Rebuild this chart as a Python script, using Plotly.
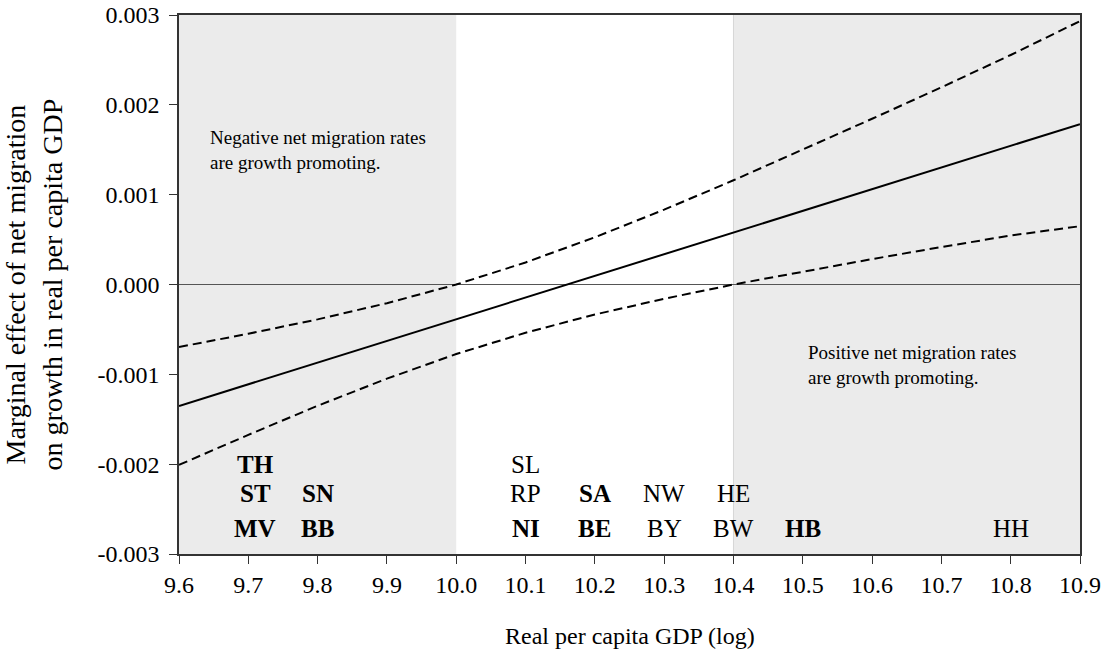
import plotly.graph_objects as go

# Log real per capita GDP grid
gdp_log = [9.6, 9.7, 9.8, 9.9, 10.0, 10.1, 10.2, 10.3, 10.4, 10.5, 10.6, 10.7, 10.8, 10.9]

# Marginal effect of net migration and its confidence bounds
effect = [-0.001352, -0.001111, -0.000869, -0.000628, -0.000387, -0.000146, 0.000096,
          0.000337, 0.000578, 0.000820, 0.001061, 0.001302, 0.001544, 0.001785]
upper = [-0.000696, -0.000548, -0.000388, -0.000208, 0.000000, 0.000245, 0.000526,
         0.000833, 0.001160, 0.001500, 0.001845, 0.002195, 0.002555, 0.002932]
lower = [-0.002008, -0.001674, -0.001350, -0.001048, -0.000774, -0.000537, -0.000334,
         -0.000159, 0.000000, 0.000144, 0.000283, 0.000417, 0.000545, 0.000649]

# Shaded ranges where the effect is significant
shaded_ranges = [(9.6, 10.0), (10.4, 10.9)]

# State codes placed at their GDP level
state_codes = ["TH", "ST", "MV", "SN", "BB", "SL", "RP", "NI", "SA", "BE",
               "NW", "BY", "HE", "BW", "HB", "HH"]
state_x = [9.71, 9.71, 9.71, 9.80, 9.80, 10.10, 10.10, 10.10, 10.20, 10.20,
           10.30, 10.30, 10.40, 10.40, 10.50, 10.80]
state_y = [-0.00200, -0.00233, -0.00272, -0.00233, -0.00272, -0.00200, -0.00233, -0.00272,
           -0.00233, -0.00272, -0.00233, -0.00272, -0.00233, -0.00272, -0.00272, -0.00272]
state_bold = [True, True, True, True, True, False, False, True, True, True,
              False, False, False, False, True, False]

# Axis ticks
x_ticks = [9.6, 9.7, 9.8, 9.9, 10.0, 10.1, 10.2, 10.3, 10.4, 10.5, 10.6, 10.7, 10.8, 10.9]
x_tick_text = ["9.6", "9.7", "9.8", "9.9", "10.0", "10.1", "10.2", "10.3", "10.4",
               "10.5", "10.6", "10.7", "10.8", "10.9"]
y_ticks = [0.003, 0.002, 0.001, 0.0, -0.001, -0.002, -0.003]
y_tick_text = ["0.003", "0.002", "0.001", "0.000", "-0.001", "-0.002", "-0.003"]

FONT = "Liberation Serif"

fig = go.Figure()

fig.add_trace(go.Scatter(x=gdp_log, y=upper, mode="lines",
                         line=dict(color="black", width=2, dash="9px,5px"),
                         hoverinfo="skip", showlegend=False))
fig.add_trace(go.Scatter(x=gdp_log, y=effect, mode="lines",
                         line=dict(color="black", width=2),
                         hoverinfo="skip", showlegend=False))
fig.add_trace(go.Scatter(x=gdp_log, y=lower, mode="lines",
                         line=dict(color="black", width=2, dash="9px,5px"),
                         hoverinfo="skip", showlegend=False))

shapes = []
for x0, x1 in shaded_ranges:
    shapes.append(dict(type="rect", xref="x", yref="paper", x0=x0, x1=x1, y0=0, y1=1,
                       fillcolor="#EBEBEB", line=dict(width=0), layer="below"))
shapes.append(dict(type="line", xref="x", yref="paper", x0=10.4, x1=10.4, y0=0, y1=1,
                   line=dict(color="#D6D6D6", width=1), layer="below"))

annotations = []
for code, sx, sy, bold in zip(state_codes, state_x, state_y, state_bold):
    annotations.append(dict(x=sx, y=sy, xref="x", yref="y", showarrow=False,
                            text=f"<b>{code}</b>" if bold else code,
                            font=dict(family=FONT, size=25, color="black"),
                            xanchor="center", yanchor="middle"))

annotations.append(dict(x=9.642, y=0.00150, xref="x", yref="y", showarrow=False,
                        text="Negative net migration rates<br>are growth promoting.",
                        align="left", xanchor="left", yanchor="middle",
                        font=dict(family=FONT, size=19, color="black")))
annotations.append(dict(x=10.504, y=-0.00090, xref="x", yref="y", showarrow=False,
                        text="Positive net migration rates<br>are growth promoting.",
                        align="left", xanchor="left", yanchor="middle",
                        font=dict(family=FONT, size=19, color="black")))

annotations.append(dict(x=-0.1610, y=0.5, xref="paper", yref="paper", showarrow=False,
                        text="Marginal effect of net migration<br>on growth in real per capita GDP",
                        textangle=-90, xanchor="center", yanchor="middle",
                        font=dict(family=FONT, size=28, color="black")))
annotations.append(dict(x=0.5, y=-0.153, xref="paper", yref="paper", showarrow=False,
                        text="Real per capita GDP (log)",
                        xanchor="center", yanchor="middle",
                        font=dict(family=FONT, size=24, color="black")))

fig.update_layout(
    width=1102, height=660,
    margin=dict(l=179, r=22, t=15, b=106, autoexpand=False),
    paper_bgcolor="white", plot_bgcolor="white",
    shapes=shapes, annotations=annotations,
    font=dict(family=FONT, size=21, color="black"),
)

fig.update_xaxes(range=[9.6, 10.9], tickvals=x_ticks, ticktext=x_tick_text,
                 showgrid=False, zeroline=False, showline=True, linecolor="#333333",
                 linewidth=1.5, mirror=True, ticks="outside", ticklen=8, tickcolor="#333333",
                 automargin=False,
                 tickfont=dict(family=FONT, size=24, color="black"))
fig.update_yaxes(range=[-0.003, 0.003], tickvals=y_ticks, ticktext=y_tick_text,
                 showgrid=False, zeroline=True, zerolinecolor="#555555", zerolinewidth=1,
                 showline=True, linecolor="#333333", linewidth=1.5, mirror=True,
                 ticks="outside", ticklen=8, tickcolor="#333333", automargin=False,
                 ticklabelstandoff=5,
                 tickfont=dict(family=FONT, size=24, color="black"))

fig.write_html("out.html")
